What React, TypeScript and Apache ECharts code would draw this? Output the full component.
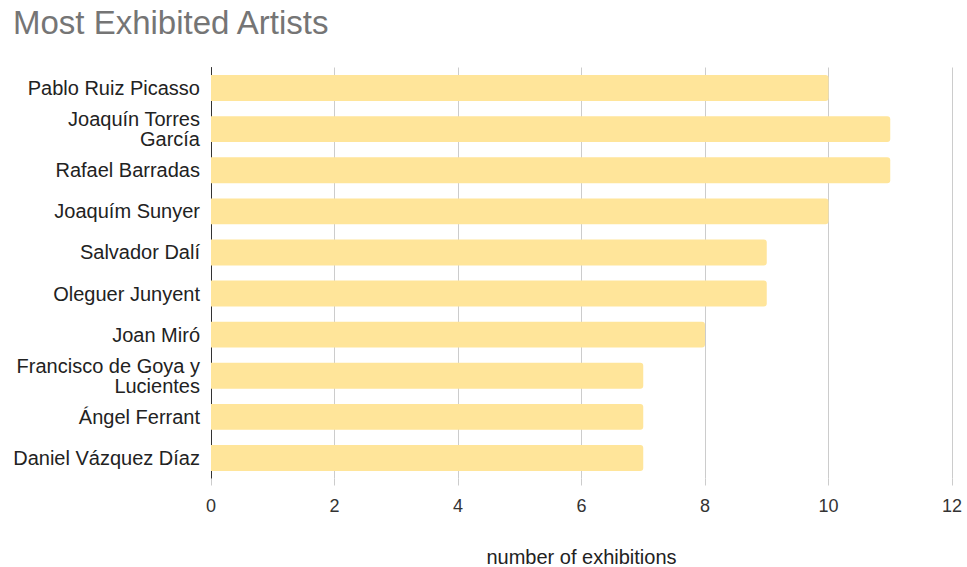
import React, { useEffect, useRef } from "react";
import * as echarts from "echarts";

const categories = [
  "Pablo Ruiz Picasso",
  "Joaquín Torres\nGarcía",
  "Rafael Barradas",
  "Joaquím Sunyer",
  "Salvador Dalí",
  "Oleguer Junyent",
  "Joan Miró",
  "Francisco de Goya y\nLucientes",
  "Ángel Ferrant",
  "Daniel Vázquez Díaz",
];
const exhibitions = [10, 11, 11, 10, 9, 9, 8, 7, 7, 7];
const xTicks = { min: 0, max: 12, interval: 2 };

const FONT = "'Liberation Sans', Arial, sans-serif";

export default function App() {
  const ref = useRef<HTMLDivElement>(null);
  useEffect(() => {
    if (!ref.current) return;
    const chart = echarts.init(ref.current, null, { renderer: "svg" });
    chart.setOption({
      animation: false,
      backgroundColor: "#ffffff",
      title: {
        text: "Most Exhibited Artists",
        left: 8,
        top: 1,
        textStyle: { fontFamily: FONT, fontSize: 33, fontWeight: "normal", color: "#757575" },
      },
      grid: {
        left: 211,
        right: 15,
        top: 67.5,
        bottom: 88.5,
        containLabel: false,
        outerBoundsMode: "none",
      },
      xAxis: {
        type: "value",
        min: xTicks.min,
        max: xTicks.max,
        interval: xTicks.interval,
        name: "number of exhibitions",
        nameLocation: "middle",
        nameGap: 68,
        nameTextStyle: { fontFamily: FONT, fontSize: 20, color: "#222" },
        axisLine: { show: false },
        axisTick: { show: true, length: 7, lineStyle: { color: "#cccccc", width: 1 } },
        axisLabel: { fontFamily: FONT, fontSize: 18, color: "#333", margin: 18 },
        splitLine: { show: true, lineStyle: { color: "#cccccc", width: 1 } },
      },
      yAxis: {
        type: "category",
        data: categories,
        inverse: true,
        axisLine: { show: true, lineStyle: { color: "#333333", width: 1 } },
        axisTick: { show: false },
        axisLabel: {
          fontFamily: FONT,
          fontSize: 20,
          color: "#222",
          margin: 11,
          lineHeight: 20,
          align: "right",
        },
      },
      series: [
        {
          type: "bar",
          data: exhibitions,
          barCategoryGap: "37%",
          itemStyle: { color: "#FFE59A", borderRadius: [0, 3, 3, 0] },
          z: 3,
        },
      ],
    });
    return () => chart.dispose();
  }, []);
  return (
    <div
      ref={ref}
      style={{ position: "absolute", left: 0, top: 0, width: 967, height: 567 }}
    />
  );
}
